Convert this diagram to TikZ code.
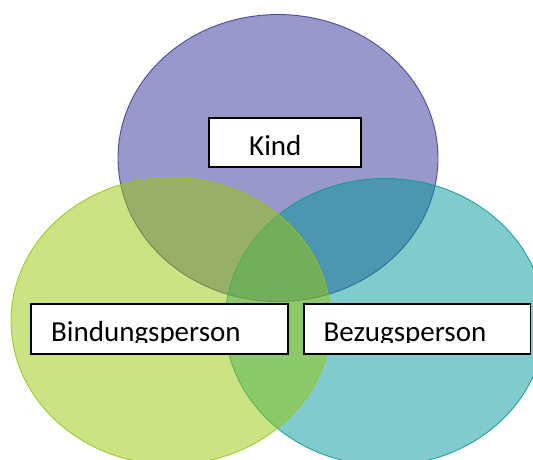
\documentclass[tikz,border=0pt]{standalone}
\usepackage{fontspec}
\setmainfont{Carlito}
\definecolor{purpbase}{RGB}{49,49,149}
\definecolor{purpline}{RGB}{55,55,150}
\definecolor{tealbase}{RGB}{1,151,151}
\definecolor{tealline}{RGB}{10,150,150}
\definecolor{greenbase}{RGB}{153,199,7}
\definecolor{greenline}{RGB}{150,195,20}
\begin{document}
\begin{tikzpicture}[x=1pt,y=-1pt,
  setfill/.style={fill opacity=0.5, draw opacity=0.85, line width=0.9pt},
  labelbox/.style={draw=black, fill=white, line width=1.6pt, inner sep=0pt, anchor=north west},
  labeltext/.style={inner sep=0pt, anchor=base west, font=\fontsize{29}{31}\selectfont, text=black}]
\useasboundingbox (0,0) rectangle (533,459);
\begin{scope}
  \clip (0,0) rectangle (533,459);
  \path[setfill, fill=purpbase, draw=purpline] (278,158) ellipse [x radius=160, y radius=143.5];
  \path[setfill, fill=tealbase, draw=tealline] (385,322) ellipse [x radius=160, y radius=143.5];
  \path[setfill, fill=greenbase, draw=greenline] (171,321) ellipse [x radius=160, y radius=143.5];
\end{scope}
\node[labelbox, minimum width=152pt, minimum height=48.7pt] (kindbox) at (208,117.3) {};
\node[labelbox, minimum width=257.3pt, minimum height=50pt] (bindbox) at (30,303) {};
\node[labelbox, minimum width=226.2pt, minimum height=50pt] (bezbox) at (303.3,303) {};
\node[labeltext] (kindtext) at (249,155) {Kind};
\begin{scope}
  \clip (30,303) rectangle (530,342);
  \node[labeltext] (bindtext) at (51,341) {Bindungsperson};
  \node[labeltext] (beztext) at (323.5,341) {Bezugsperson};
\end{scope}
\end{tikzpicture}
\end{document}
